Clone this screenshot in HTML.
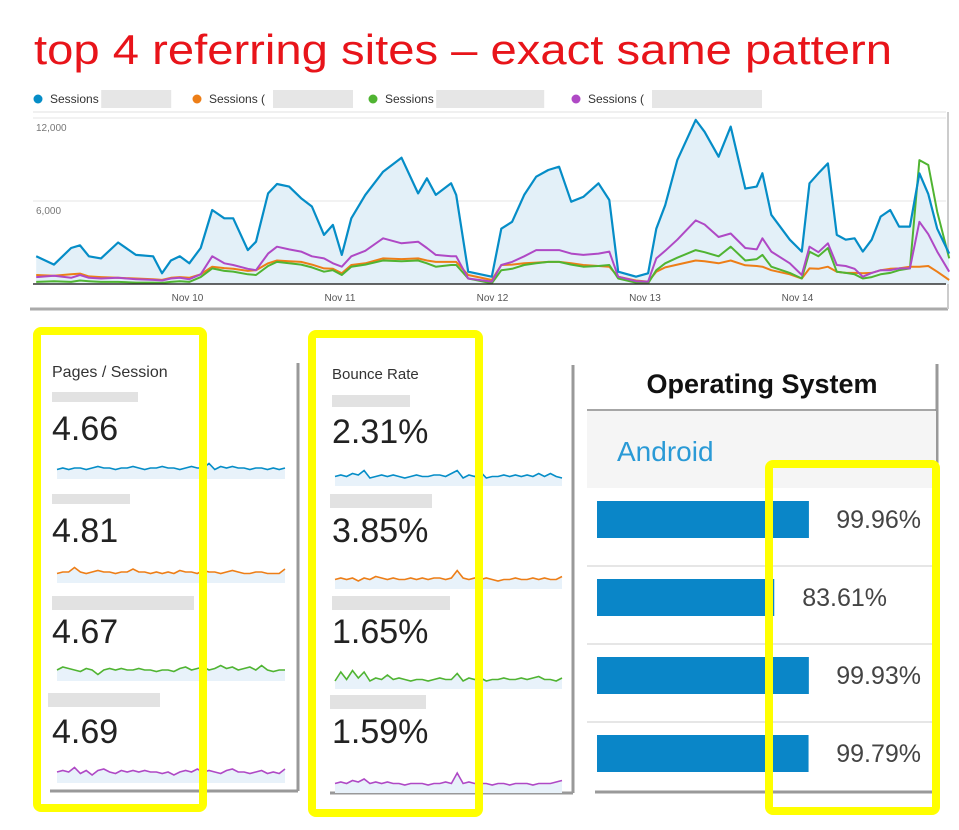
<!DOCTYPE html>
<html><head><meta charset="utf-8"><style>
html,body{margin:0;padding:0;background:#fff;}
svg{display:block;font-family:"Liberation Sans",sans-serif;}
</style></head><body>
<svg id="root" width="959" height="830" viewBox="0 0 959 830">
<text x="34" y="64" font-size="42" fill="#e8141a" textLength="858" lengthAdjust="spacingAndGlyphs">top 4 referring sites – exact same pattern</text>

<g id="main-chart">
  <rect x="30" y="85" width="918" height="224" fill="#fff"/>
  <line x1="30" y1="309" x2="948" y2="309" stroke="#aaa" stroke-width="3"/>
  <line x1="948" y1="112" x2="948" y2="309" stroke="#ccc" stroke-width="2"/>
  <line x1="33" y1="112" x2="946" y2="112" stroke="#e2e2e2" stroke-width="1"/>
  <g id="legend"></g>
  <g id="grid"></g>
  <g id="series"></g>
  <g id="xaxis"></g>
</g>

<g id="pages-card">
  <line x1="298" y1="363" x2="298" y2="791" stroke="#999" stroke-width="3"/>
  <line x1="50" y1="791" x2="298" y2="791" stroke="#999" stroke-width="3"/>
  <text x="52" y="377" font-size="16" fill="#333">Pages / Session</text>
  <text x="52" y="440" font-size="34" fill="#222">4.66</text>
  <text x="52" y="542" font-size="34" fill="#222">4.81</text>
  <text x="52" y="643" font-size="34" fill="#222">4.67</text>
  <text x="52" y="743" font-size="34" fill="#222">4.69</text>
  <g fill="#e2e2e2">
    <rect x="52" y="392" width="86" height="10"/>
    <rect x="52" y="494" width="78" height="10"/>
    <rect x="52" y="596" width="142" height="14"/>
    <rect x="48" y="693" width="112" height="14"/>
  </g>
  <g id="pages-sparks"></g>
</g>

<g id="bounce-card">
  <line x1="573" y1="365" x2="573" y2="793" stroke="#999" stroke-width="3"/>
  <line x1="330" y1="793" x2="573" y2="793" stroke="#999" stroke-width="3"/>
  <text x="332" y="379" font-size="15" fill="#333">Bounce Rate</text>
  <text x="332" y="443" font-size="34" fill="#222">2.31%</text>
  <text x="332" y="542" font-size="34" fill="#222">3.85%</text>
  <text x="332" y="643" font-size="34" fill="#222">1.65%</text>
  <text x="332" y="743" font-size="34" fill="#222">1.59%</text>
  <g fill="#e2e2e2">
    <rect x="332" y="395" width="78" height="12"/>
    <rect x="330" y="494" width="102" height="14"/>
    <rect x="332" y="596" width="118" height="14"/>
    <rect x="330" y="695" width="96" height="14"/>
  </g>
  <g id="bounce-sparks"></g>
</g>

<g id="os-card">
  <line x1="937" y1="364" x2="937" y2="792" stroke="#999" stroke-width="3"/>
  <line x1="595" y1="792" x2="937" y2="792" stroke="#999" stroke-width="3"/>
  <text x="762" y="393" font-size="27" font-weight="bold" fill="#111" text-anchor="middle">Operating System</text>
  <line x1="587" y1="410" x2="936" y2="410" stroke="#888" stroke-width="1.5"/>
  <rect x="587" y="411" width="349" height="77" fill="#f5f5f5"/>
  <text x="617" y="461" font-size="28" fill="#2a9ad6">Android</text>
  <g id="os-bars"></g>
</g>

<g fill="none" stroke="#ffff00" stroke-width="8">
  <rect x="37" y="331" width="166" height="477" rx="4"/>
  <rect x="312" y="334" width="167" height="479" rx="4"/>
  <rect x="769" y="464" width="167" height="347" rx="4"/>
</g>
</svg>
<script>
const NS="http://www.w3.org/2000/svg";
// ---- main chart data ----
const hours=[0.5,3.3,6.0,7.4,8.8,10.7,13.4,16.2,18.9,20.3,21.7,23.1,24.6,26.4,28.2,30.1,31.5,33.8,35.1,37.0,38.4,40.3,42.2,43.9,45.8,47.2,48.6,50.1,52.3,55.1,58.0,60.6,62.0,63.4,65.8,66.6,68.5,72.2,73.7,75.4,77.3,79.2,81.1,82.8,84.7,86.6,89.0,90.7,92.1,94.9,96.8,98.1,99.5,101.4,104.3,105.7,107.9,109.8,112.1,113.9,114.8,116.2,119.1,121.0,122.2,123.6,125.1,126.5,127.9,129.3,130.6,132.0,133.4,134.9,136.3,138.0,139.5,140.9,142.3,144.2];
const sessionsBlue=[2000,1400,2600,2800,2000,1850,3000,2100,2000,770,1700,2000,1500,2600,5350,4750,4750,2450,3060,6550,7230,7040,6200,5600,3550,4270,2100,4750,6440,8120,9130,6550,7640,6440,7280,6440,890,530,4000,4500,6440,7760,8240,8480,5950,6300,7280,6070,890,530,770,4000,5700,8960,11860,11000,9200,11380,6900,7040,8000,5000,3200,2340,7280,8000,8720,3550,3200,3300,2340,3200,4870,5350,4150,4150,8000,6500,4000,2200];
const sessionsOrange=[650,600,700,750,550,500,450,400,350,300,450,500,450,700,1250,1150,1100,950,1000,1500,1700,1650,1600,1400,1130,1100,770,1370,1500,1850,1800,1850,1700,1600,1600,1600,650,290,1370,1400,1500,1550,1600,1600,1500,1370,1300,1250,530,250,170,890,1200,1400,1700,1650,1500,1700,1350,1300,1250,1000,700,400,1130,1100,1250,890,800,800,770,800,1000,1100,1130,1250,1250,1300,890,290];
const sessionsGreen=[150,200,150,250,200,150,150,100,100,80,150,200,150,500,1130,950,900,700,650,1300,1600,1500,1400,1200,890,1000,650,1250,1400,1700,1650,1700,1500,1250,1370,1370,400,50,1000,1100,1370,1500,1600,1600,1400,1250,1300,1370,400,100,50,1000,1500,1900,2450,2300,2000,2700,1700,1800,2100,1250,800,400,2340,2000,2600,890,800,700,400,500,700,800,1000,1130,8960,8600,5230,1850];
const sessionsPurple=[500,600,450,650,450,400,450,350,300,250,400,450,350,700,2000,1500,1370,1100,1000,2200,2700,2500,2340,2000,1850,1500,1250,2000,2400,3300,2940,3060,2600,2100,2000,2000,400,170,1370,1600,2000,2450,2450,2450,2200,2100,2200,2340,530,200,170,1850,2400,3200,4600,4300,3400,3650,2600,2500,3300,2340,1500,650,2700,2300,2940,1370,1300,1100,530,800,1000,1000,1130,1130,4500,3600,2340,890];
const yTicks=[6000,12000];
const yTickLabels=["6,000","12,000"];
const xTickHours=[24,48,72,96,120];
const xTickLabels=["Nov 10","Nov 11","Nov 12","Nov 13","Nov 14"];
const legendLabels=["Sessions","Sessions (","Sessions","Sessions ("];

const X=h=>33+h*6.354;
const Y=v=>284-v*(166/12000);
function mk(tag,attrs,parent){const e=document.createElementNS(NS,tag);for(const k in attrs)e.setAttribute(k,attrs[k]);parent.appendChild(e);return e;}

const grid=document.getElementById('grid');
yTicks.forEach((t,i)=>{
  const l=mk('line',{x1:33,x2:946,y1:Y(t),y2:Y(t),stroke:'#e4e4e4'},grid);
  
  
  const tx=mk('text',{x:36,y:Y(t)+13,'font-size':10,fill:'#777'},grid);
  tx.textContent=yTickLabels[i];
  
  
});
const xa=document.getElementById('xaxis');
const base=mk('line',{x1:33,x2:946,y1:284,y2:284,stroke:'#333','stroke-width':1.5},xa);


xTickHours.forEach((h,i)=>{
  const t=mk('text',{x:X(h)+2,y:301,'font-size':10,fill:'#555','text-anchor':'middle'},xa);
  t.textContent=xTickLabels[i];
  
  
});

const colors=['#058dc7','#ed7e17','#50b432','#af49c5'];
const seriesAll=[sessionsBlue,sessionsOrange,sessionsGreen,sessionsPurple];
const sg=document.getElementById('series');
const pts=s=>s.map((v,i)=>X(hours[i]).toFixed(1)+','+Y(v).toFixed(1));
const area=mk('path',{d:'M'+X(hours[0])+',284 L'+pts(sessionsBlue).join(' L')+' L'+X(hours[hours.length-1])+',284 Z',fill:'#e3f0f8'},sg);


[1,2,3,0].forEach(k=>{
  const p=mk('polyline',{points:pts(seriesAll[k]).join(' '),fill:'none',stroke:colors[k],'stroke-width':k==0?2.2:2,'stroke-linejoin':'round'},sg);
  
  
});
const lg=document.getElementById('legend');
const legX=[38,197,373,576];
const blurW=[70,80,108,110];
legendLabels.forEach((lab,i)=>{
  const c=mk('circle',{cx:legX[i],cy:99,r:4.5,fill:colors[i]},lg);
  
  
  const t=mk('text',{x:legX[i]+12,y:103,'font-size':12,fill:'#333'},lg);
  t.textContent=lab;
  
  
  const r=mk('rect',{x:legX[i]+12+(lab.length*6.4),y:90,width:blurW[i],height:18,fill:'#e0e0e0',opacity:0.8},lg);
  
  
});

// ---- sparkline data (relative level 0-10) ----
const pagesSparkBlue=[4,5,4,5,5,4,5,6,5,5,4,5,5,6,5,4,5,5,6,5,5,4,5,6,5,5,8,4,6,5,6,5,5,4,5,5,4,5,4,5];
const pagesSparkOrange=[4,5,5,8,5,4,5,6,5,5,4,5,5,7,5,5,4,5,4,5,4,6,5,5,4,6,5,5,4,5,6,5,4,4,5,5,4,4,4,7];
const pagesSparkGreen=[5,7,6,5,4,6,5,2,5,6,5,6,5,5,6,5,5,4,5,5,4,6,7,5,6,7,5,6,8,6,7,5,6,7,5,8,5,4,5,5];
const pagesSparkPurple=[5,6,5,8,4,6,3,6,7,5,4,6,5,6,5,6,5,5,4,5,3,5,6,5,7,5,6,5,4,6,7,5,5,4,5,6,4,5,4,7];
const bounceSparkBlue=[4,5,4,6,5,8,3,4,5,4,5,4,3,4,5,4,4,5,5,4,6,8,3,5,4,7,3,4,4,5,4,5,4,5,4,6,4,6,4,3];
const bounceSparkOrange=[4,5,4,5,3,5,4,6,5,4,5,4,4,5,4,5,4,5,5,4,5,10,5,4,5,4,5,4,3,4,4,5,4,4,5,4,5,4,4,6];
const bounceSparkGreen=[3,9,4,10,5,9,3,5,4,7,4,5,4,3,4,4,3,4,5,4,4,8,3,5,4,5,3,4,4,5,4,4,5,4,5,6,4,4,3,5];
const bounceSparkPurple=[4,5,4,6,5,7,4,5,4,5,4,4,3,4,4,4,3,4,4,5,4,11,4,5,4,4,4,3,4,4,3,4,4,4,3,4,4,4,5,6];

function spark(gid,data,x0,x1,yb,col,name){
  const g=document.getElementById(gid);
  const n=data.length;
  const sx=i=>x0+i*(x1-x0)/(n-1);
  const sy=v=>yb-(v-5)*1.5;
  const p=data.map((v,i)=>sx(i).toFixed(1)+','+sy(v).toFixed(1));
  const f=mk('path',{d:'M'+x0+','+(yb+11)+' L'+p.join(' L')+' L'+x1+','+(yb+11)+' Z',fill:'#e8f2fa'},g);
  
  
  const l=mk('polyline',{points:p.join(' '),fill:'none',stroke:col,'stroke-width':1.6},g);
  
  
}
spark('pages-sparks',pagesSparkBlue,57,285,468,colors[0],'pages-sparkline-1');
spark('pages-sparks',pagesSparkOrange,57,285,572,colors[1],'pages-sparkline-2');
spark('pages-sparks',pagesSparkGreen,57,285,670,colors[2],'pages-sparkline-3');
spark('pages-sparks',pagesSparkPurple,57,285,772,colors[3],'pages-sparkline-4');
spark('bounce-sparks',bounceSparkBlue,335,562,475,colors[0],'bounce-sparkline-1');
spark('bounce-sparks',bounceSparkOrange,335,562,578,colors[1],'bounce-sparkline-2');
spark('bounce-sparks',bounceSparkGreen,335,562,678,colors[2],'bounce-sparkline-3');
spark('bounce-sparks',bounceSparkPurple,335,562,782,colors[3],'bounce-sparkline-4');

// ---- OS bars ----
const osShares=[99.96,83.61,99.93,99.79];
const osLabels=["99.96%","83.61%","99.93%","99.79%"];
const ob=document.getElementById('os-bars');
const barW=v=>v/100*212;
osShares.forEach((v,i)=>{
  const top=488+i*78;
  if(i>0){const d=mk('line',{x1:587,x2:936,y1:top,y2:top,stroke:'#ddd','stroke-width':1.5},ob);
    
    }
  const r=mk('rect',{x:597,y:top+13,width:barW(v),height:37,fill:'#0a86c8'},ob);
  
  
  const full=v>90;
  const t=mk('text',{x:full?921:887,y:top+40,'font-size':25,fill:'#444','text-anchor':'end'},ob);
  t.textContent=osLabels[i];
  
  
});
</script>
</body></html>
